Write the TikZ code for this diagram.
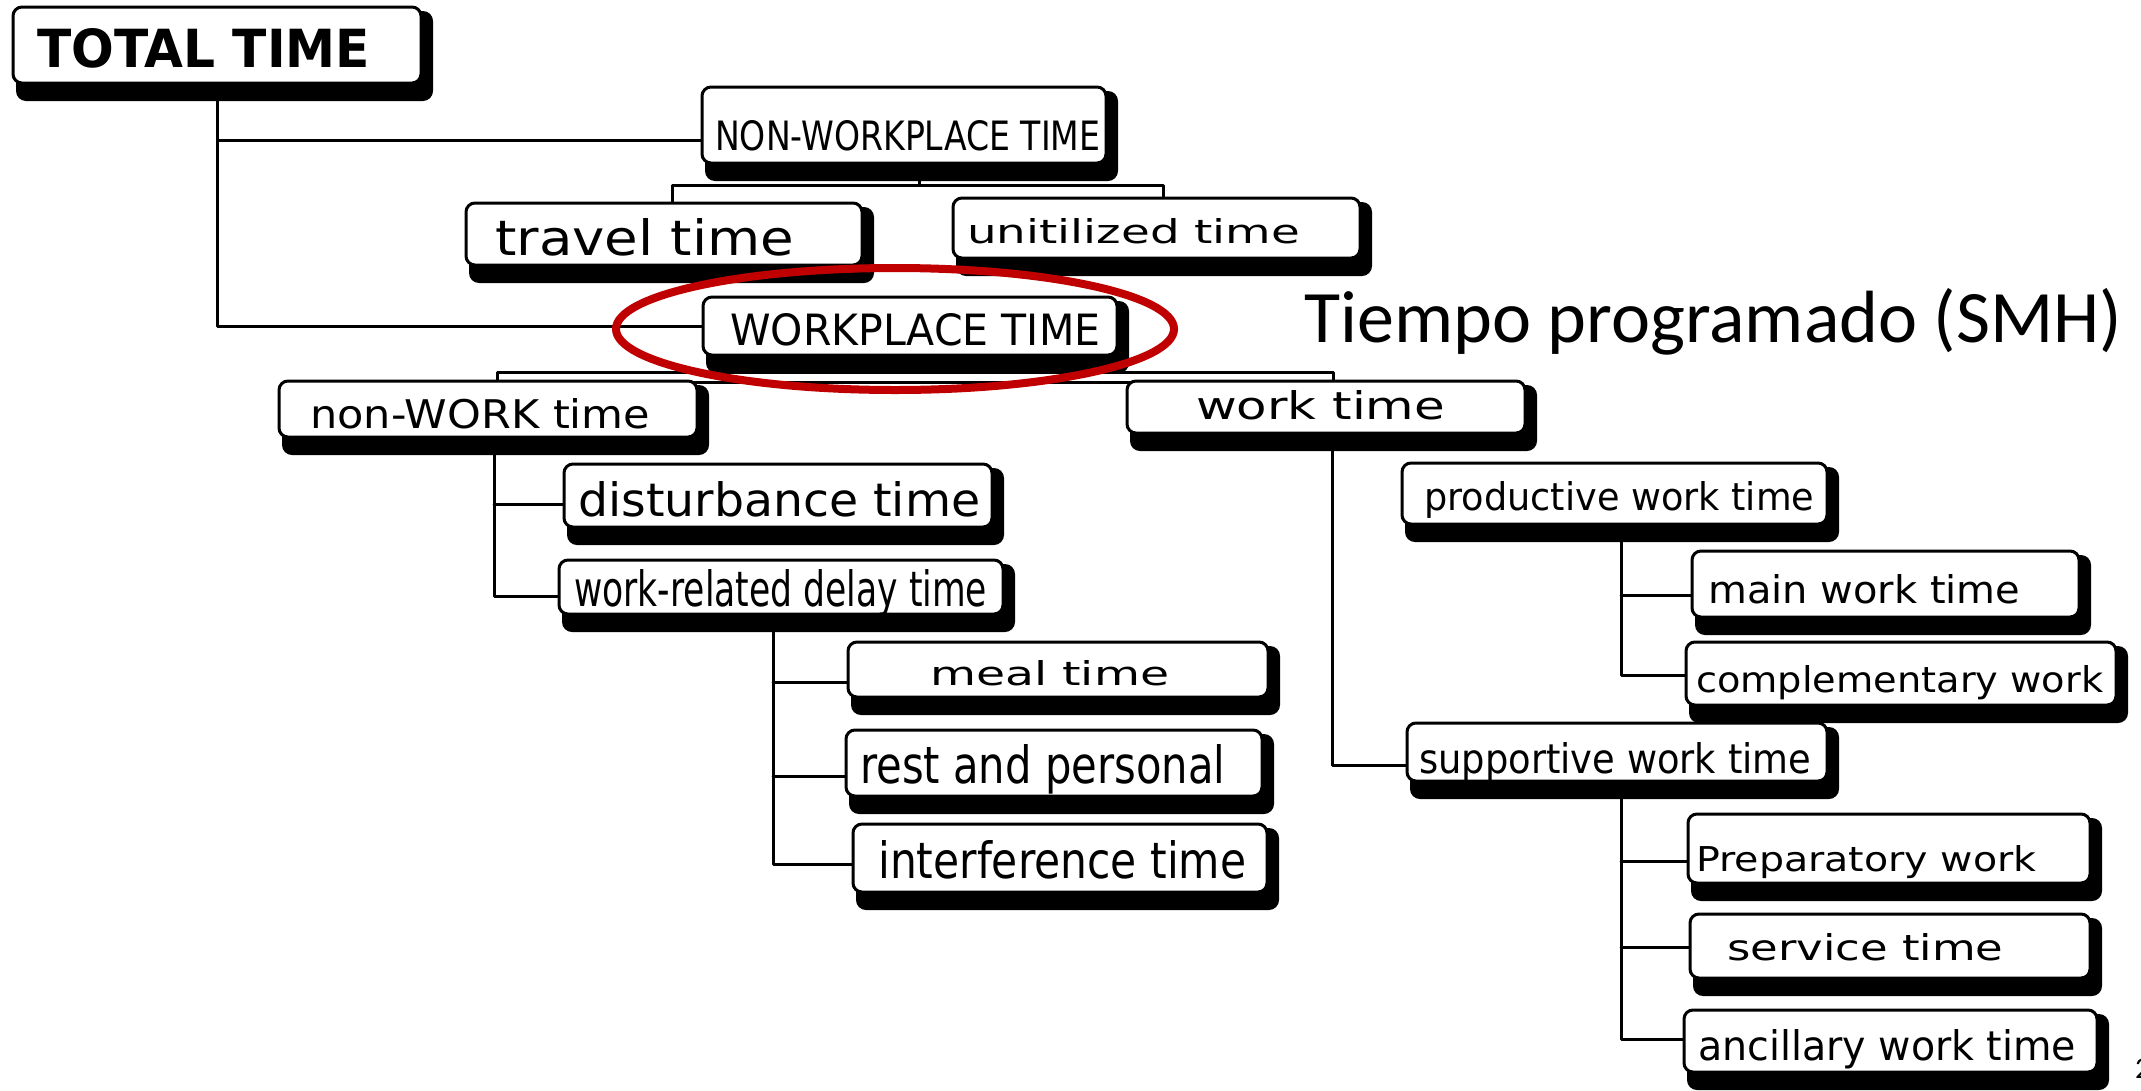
\documentclass[tikz,border=0pt]{standalone}
\usepackage{graphicx}
\usepackage{fontspec}
\setmainfont{DejaVu Sans}
\newfontfamily\carl{Carlito}
\usetikzlibrary{fit,calc,backgrounds}
\definecolor{redc}{HTML}{C00000}
\tikzset{
  tbox/.style={draw=black, line width=3pt, fill=white, rounded corners=9pt, inner sep=0pt},
  conn/.style={draw=black, line width=3pt, line cap=round, line join=round},
  tlabel/.style={anchor=base west, inner sep=0pt}
}
\newcommand\tb[7]{%
  \coordinate (#1-a) at (#2);
  \coordinate (#1-b) at (#3);
  \begin{scope}[on background layer]
    \fill[black, rounded corners=10pt] ($(#1-a)+(3,4)$) rectangle ($(#1-b)+(12,18)$);
  \end{scope}
  \node[tbox, fit=(#1-a)(#1-b)] (#1) {};
  \node[tlabel] (#1-t) at (#4) {\resizebox{#5pt}{#6pt}{#7}};
}
\begin{document}
\begin{tikzpicture}[x=1pt,y=-1pt]
\useasboundingbox (0,0) rectangle (2141,1090);
\begin{scope}[on background layer]
  \fill[white] (0,0) rectangle (2141,1090);
\end{scope}

\tb{total}{13,7}{421,83}{37,67}{333}{39}{\bfseries TOTAL TIME}
\tb{nonwp}{702,87}{1106,163}{715,150}{385}{30}{NON-WORKPLACE TIME}
\tb{travel}{466,203}{862,265}{495,255}{299}{37}{travel time}
\tb{unitil}{953,198}{1360,258}{967,243}{333}{25}{unitilized time}
\tb{wp}{703,297}{1117,355}{730,345}{370}{32}{WORKPLACE TIME}
\tb{nwork}{279,381}{697,437}{310,428}{340}{30}{non-WORK time}
\tb{work}{1127,381}{1525,433}{1196,419}{249}{29}{work time}
\tb{dist}{564,464}{992,527}{578,516}{402}{35}{disturbance time}
\tb{wrd}{559,560}{1003,614}{574,606}{413}{37}{work-related delay time}
\tb{meal}{848,642}{1268,697}{930,685}{239}{25}{meal time}
\tb{rest}{846,730}{1262,796}{860,783}{365}{39}{rest and personal}
\tb{interf}{853,824}{1267,892}{878,878}{368}{38}{interference time}
\tb{prod}{1402,463}{1827,524}{1424,510}{390}{29}{productive work time}
\tb{main}{1692,551}{2079,617}{1708,603}{312}{29}{main work time}
\tb{compl}{1686,642}{2116,705}{1696,692}{407}{27}{complementary work}
\tb{supp}{1407,723}{1827,781}{1419,773}{392}{31}{supportive work time}
\tb{prep}{1688,814}{2090,883}{1696,871}{340}{26}{Preparatory work}
\tb{serv}{1690,914}{2090,978}{1727,960}{276}{27}{service time}
\tb{anc}{1684,1010}{2097,1072}{1698,1060}{378}{31}{ancillary work time}

\coordinate (nb) at (919,185);
\coordinate (nbl) at (672,185);
\coordinate (nbr) at (1163,185);
\coordinate (wb) at (924,372);
\coordinate (wbl) at (497,372);
\coordinate (wbr) at (1333,382);
\coordinate (nwx) at (494,0);
\coordinate (wx) at (773,0);
\coordinate (wkx) at (1332,0);
\coordinate (px) at (1621,0);

\begin{scope}[on background layer]
\begin{scope}[every path/.style=conn]
  \draw (total.south) |- ($(nonwp.west)+(0,15)$);
  \draw (total.south) |- (wp.west);
  \draw (nonwp.south -| nb) -- (nb);
  \draw (nbl |- travel.north) |- (nbr) -- (nbr |- unitil.north);
  \draw (wp.south -| wb) -- (wb);
  \draw (wbl) rectangle (wbr);
  \draw (nwork.south -| nwx) |- ($(wrd.west)+(0,9)$);
  \draw ($(dist.west)+(0,9)$) -- ($(dist.west -| nwx)+(0,9)$);
  \draw (wrd.south -| wx) |- ($(interf.west)+(0,6)$);
  \draw ($(meal.west)+(0,13)$) -- ($(meal.west -| wx)+(0,13)$);
  \draw ($(rest.west)+(0,13)$) -- ($(rest.west -| wx)+(0,13)$);
  \draw (work.south -| wkx) |- ($(supp.west)+(0,13)$);
  \draw (prod.south -| px) |- ($(compl.west)+(0,2)$);
  \draw ($(main.west)+(0,11)$) -- ($(main.west -| px)+(0,11)$);
  \draw (supp.south -| px) |- ($(anc.west)+(0,-2)$);
  \draw ($(prep.west)+(0,13)$) -- ($(prep.west -| px)+(0,13)$);
  \draw ($(serv.west)+(0,1)$) -- ($(serv.west -| px)+(0,1)$);
\end{scope}
\end{scope}

\draw[redc, line width=8pt] (895,329) ellipse [x radius=279pt, y radius=61pt];

\node[anchor=base west, inner sep=0pt, font=\carl\fontsize{74}{80}\selectfont] (smh) at (1304,342) {Tiempo programado (SMH)};
\node[anchor=base west, inner sep=0pt, font=\carl\fontsize{30}{32}\selectfont] (pg) at (2135,1078) {2};
\end{tikzpicture}
\end{document}
